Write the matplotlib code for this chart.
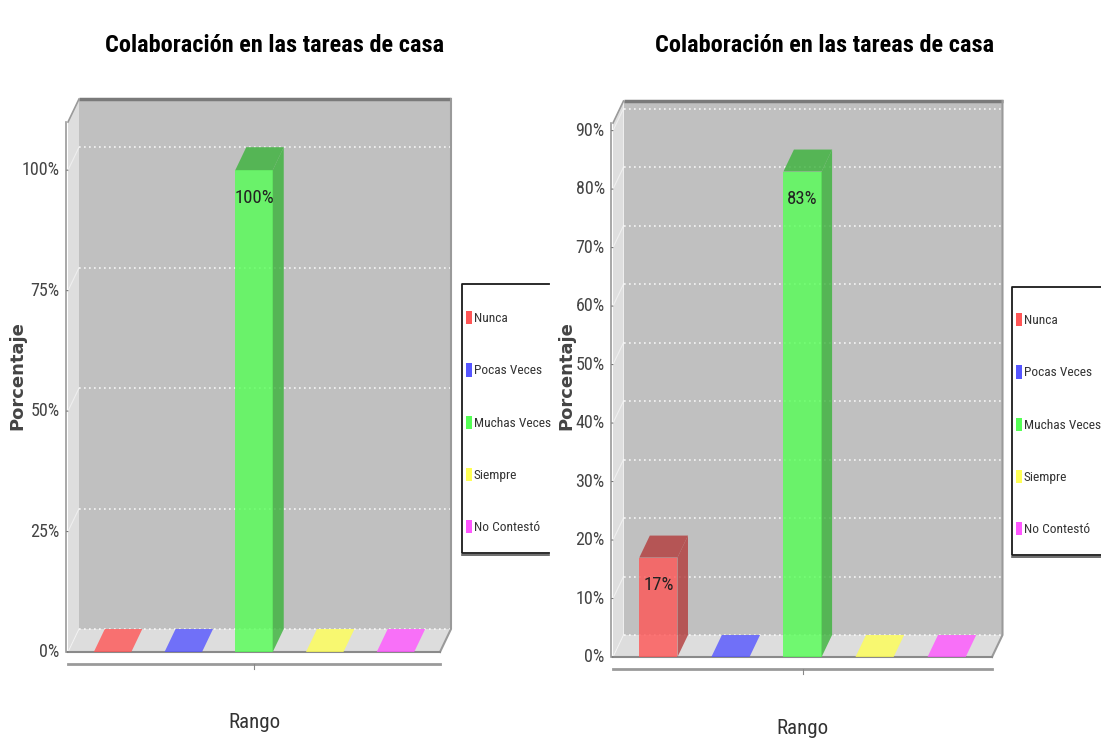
import matplotlib
matplotlib.use('Agg')
import matplotlib.pyplot as plt
from matplotlib import font_manager
from matplotlib.patches import Polygon, Patch
from matplotlib.lines import Line2D

# Data
categories = ['Nunca', 'Pocas Veces', 'Muchas Veces', 'Siempre', 'No Contestó']
left_values = [0, 0, 100, 0, 0]
right_values = [17, 0, 83, 0, 0]
left_ticks = [0, 25, 50, 75, 100]
right_ticks = [0, 10, 20, 30, 40, 50, 60, 70, 80, 90]
title = 'Colaboración en las tareas de casa'

base_colors = ['#ff5555', '#5555ff', '#55ff55', '#ffff55', '#ff55ff']
side_colors = ['#b33b3b', '#3b3bb3', '#3bb33b', '#b3b33b', '#b33bb3']

# pick a narrow font if one is installed
names = {f.name for f in font_manager.fontManager.ttflist}
narrow = next((n for n in ['Roboto Condensed', 'Liberation Sans Narrow',
                           'Open Sans Condensed', 'Noto Sans Condensed']
               if n in names), 'Liberation Sans')

W, H = 1101, 749
fig = plt.figure(figsize=(W / 100, H / 100), dpi=100)
fig.patch.set_facecolor('white')


def px_axes(x0, x1, ytop, ybot):
    return fig.add_axes([x0 / W, (H - ybot) / H, (x1 - x0) / W, (ybot - ytop) / H])


def fig_line(xs, ys, **kw):
    fig.add_artist(Line2D([x / W for x in xs], [1 - y / H for y in ys],
                          transform=fig.transFigure, **kw))


def draw_chart(ax, values, ticks, ymax, DX, DY, title_x, ylabel_x, xlabel_y, leg_box):
    ax.set_xlim(-0.63, 4.63)
    ax.set_ylim(0, ymax)
    ax.axis('off')
    x0, x1 = ax.get_xlim()

    # depth offset of the 3D box, converted to data units
    inv = ax.transData.inverted()
    p0 = inv.transform((0, 0))
    p1 = inv.transform((DX, DY))
    dx, dy = p1[0] - p0[0], p1[1] - p0[1]

    # back wall, left wall and floor
    ax.add_patch(Polygon([(x0 + dx, dy), (x1 + dx, dy), (x1 + dx, ymax + dy), (x0 + dx, ymax + dy)],
                         closed=True, fc='#c0c0c0', ec='none', clip_on=False, zorder=1))
    ax.add_patch(Polygon([(x0, 0), (x0 + dx, dy), (x0 + dx, ymax + dy), (x0, ymax)],
                         closed=True, fc='#dedede', ec='none', clip_on=False, zorder=1))
    ax.add_patch(Polygon([(x0, 0), (x1, 0), (x1 + dx, dy), (x0 + dx, dy)],
                         closed=True, fc='#dddddd', ec='none', clip_on=False, zorder=1))

    # gridlines on the back wall
    for t in ticks:
        ax.plot([x0 + dx, x1 + dx], [t + dy, t + dy], color='white', lw=1.2,
                ls=(0, (1, 2)), alpha=0.85, clip_on=False, zorder=2)
        ax.plot([x0, x0 + dx], [t, t + dy], color='white', lw=0.8,
                alpha=0.5, clip_on=False, zorder=2)

    # wall outlines
    ax.plot([x0 + dx, x1 + dx], [ymax + dy, ymax + dy], color='#7a7a7a', lw=2.5,
            clip_on=False, zorder=3, solid_capstyle='butt')
    ax.plot([x1 + dx, x1 + dx, x1], [ymax + dy, dy, 0], color='#9a9a9a', lw=1.5,
            clip_on=False, zorder=3)
    ax.plot([x0, x0 + dx], [ymax, ymax + dy], color='#9a9a9a', lw=1.2,
            clip_on=False, zorder=3)
    ax.plot([x0, x1], [0, 0], color='#8a8a8a', lw=1.5, clip_on=False, zorder=3)

    # bars
    w = 0.53
    for i, v in enumerate(values):
        a, b = i - w / 2, i + w / 2
        if v > 0:
            ax.add_patch(Polygon([(a, 0), (b, 0), (b, v), (a, v)], closed=True,
                                 fc=base_colors[i], alpha=0.8, ec='none', clip_on=False, zorder=5))
            ax.add_patch(Polygon([(b, 0), (b + dx, dy), (b + dx, v + dy), (b, v)], closed=True,
                                 fc=side_colors[i], alpha=0.8, ec='none', clip_on=False, zorder=5))
            ax.add_patch(Polygon([(a, v), (b, v), (b + dx, v + dy), (a + dx, v + dy)], closed=True,
                                 fc=side_colors[i], alpha=0.8, ec='none', clip_on=False, zorder=5))
            ax.annotate(f'{v}%', (i, v), xytext=(0, -20), textcoords='offset points',
                        ha='center', va='center', fontsize=13.5, family=narrow,
                        color='#222222', zorder=6)
        else:
            ax.add_patch(Polygon([(a, 0), (b, 0), (b + dx, dy), (a + dx, dy)], closed=True,
                                 fc=base_colors[i], alpha=0.8, ec='none', clip_on=False, zorder=4))

    # value axis
    ax.plot([x0 - 0.03, x0 - 0.03], [0, ymax], color='#9a9a9a', lw=1.2, clip_on=False, zorder=3)
    for t in ticks:
        ax.annotate('', (x0, t), xytext=(-3, 0), textcoords='offset points',
                    arrowprops=dict(arrowstyle='-', color='#777777', lw=0.8))
        ax.annotate(f'{t}%', (x0, t), xytext=(-6, 0), textcoords='offset points',
                    ha='right', va='center', fontsize=13, family=narrow, color='#444444')

    # category axis
    cat_y = -12 * (ymax / ax.bbox.height)
    ax.plot([x0, x1], [cat_y, cat_y], color='#9a9a9a', lw=2, clip_on=False, zorder=3)
    ax.plot([2, 2], [cat_y, cat_y * 1.45], color='#888888', lw=0.8, clip_on=False, zorder=3)

    fig.text(title_x / W, 1 - 45 / H, title, ha='center', va='center', fontsize=17.5,
             fontweight='bold', family=narrow, color='black')
    fig.text(ylabel_x / W, 1 - 376 / H, 'Porcentaje', rotation=90, ha='center', va='center',
             fontsize=13, fontweight='bold', family='DejaVu Sans', color='#444444')
    fig.text(ax.transData.transform((2, 0))[0] / W, 1 - xlabel_y / H, 'Rango',
             ha='center', va='center', fontsize=15, family=narrow, color='#333333')

    # legend: entries without frame, box drawn open on the right
    lx, ly, lr, lb, first = leg_box
    handles = [Patch(fc=c, ec='none') for c in base_colors]
    leg = ax.legend(handles, categories, loc='upper left',
                    bbox_to_anchor=(lx / W, 1 - (first - 8) / H),
                    bbox_transform=fig.transFigure, borderaxespad=0, borderpad=0,
                    prop={'family': narrow, 'size': 9.6},
                    handlelength=0.45, handleheight=1.15, handletextpad=0.12,
                    labelspacing=2.86, frameon=False)
    for txt in leg.get_texts():
        txt.set_color('#333333')
    box_left = lx - 4
    fig_line([lr, box_left, box_left, lr], [ly, ly, lb, lb], color='#1a1a1a', lw=1.3)
    fig_line([box_left, lr], [lb + 1.5, lb + 1.5], color='#555555', lw=1.2)


ax1 = px_axes(68, 440, 122, 652)
draw_chart(ax1, left_values, left_ticks, 110, 11, 23, 275, 17, 722,
           (466, 284, 549, 553, 319))

ax2 = px_axes(613, 992, 123, 657)
draw_chart(ax2, right_values, right_ticks, 83 * 1.1, 10.5, 22, 825, 566, 729,
           (1016, 287, 1101, 555, 321))

fig.savefig('out.png', dpi=100, facecolor='white')
